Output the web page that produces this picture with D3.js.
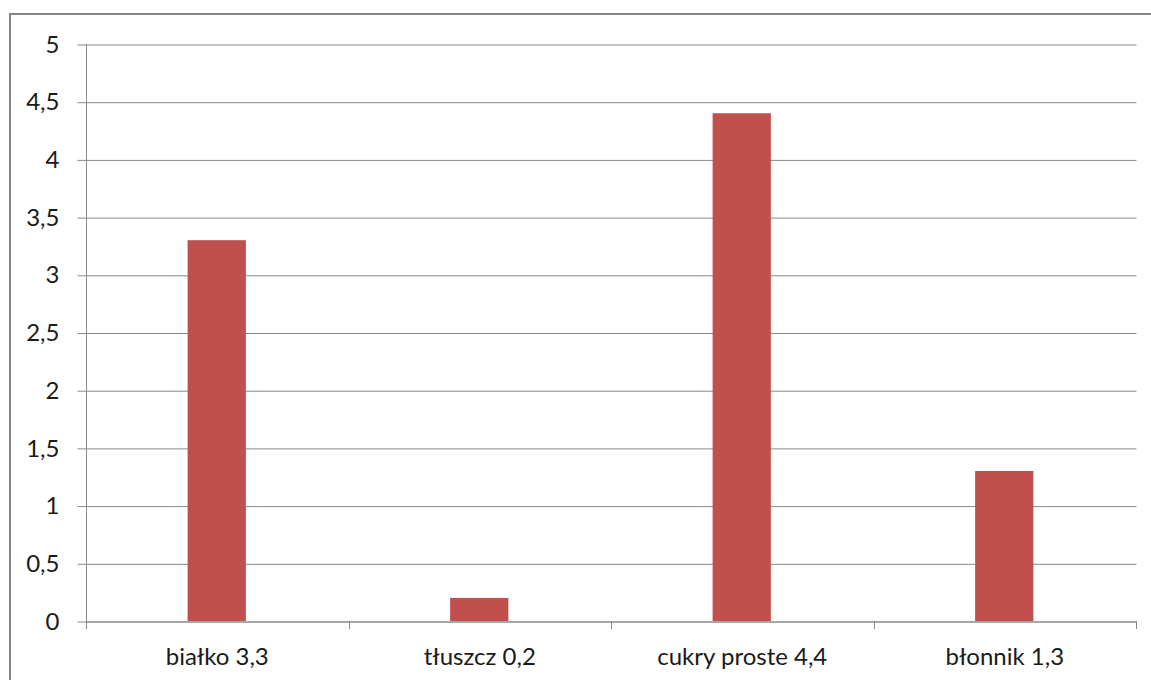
<!DOCTYPE html>
<html>
<head>
<meta charset="utf-8">
<script src="https://cdn.jsdelivr.net/npm/d3@7"></script>
<style>
  html, body { margin: 0; padding: 0; background: #fff; }
  svg { display: block; }
  text { font-family: Lato, "Liberation Sans", sans-serif; fill: #1a1a1a; }
</style>
</head>
<body>
<svg id="chart" width="1151" height="680"></svg>
<script>
// Nutrient content per category
const categories = ["białko 3,3", "tłuszcz 0,2", "cukry proste 4,4", "błonnik 1,3"];
const values = [3.3, 0.2, 4.4, 1.3];
const yTicks = [0, 0.5, 1, 1.5, 2, 2.5, 3, 3.5, 4, 4.5, 5];

const W = 1151, H = 680;
const margin = { left: 86, right: 15, top: 44, bottom: 59 };
const svg = d3.select("#chart");

// Outer chart frame (runs past the right and bottom edges)
svg.append("rect")
  .attr("x", 10).attr("y", 14)
  .attr("width", W + 20).attr("height", H + 20)
  .attr("fill", "none").attr("stroke", "#868686").attr("stroke-width", 2);

const x = d3.scaleBand()
  .domain(categories)
  .range([margin.left, W - margin.right])
  .padding(0);

const y = d3.scaleLinear()
  .domain([0, 5])
  .range([H - margin.bottom, margin.top]);

const fmt = d => String(d).replace(".", ",");

// Horizontal gridlines with tick labels
const yAxis = d3.axisLeft(y)
  .tickValues(yTicks)
  .tickFormat(fmt)
  .tickSize(-(W - margin.right - margin.left) - 9)
  .tickPadding(18);

const gy = svg.append("g")
  .attr("transform", `translate(${margin.left - 9 + 0.5},0)`)
  .call(yAxis);
gy.select(".domain").remove();
gy.selectAll(".tick line")
  .attr("stroke", "#898989")
  .attr("transform", "translate(0,0.5)");
gy.selectAll(".tick text")
  .attr("x", -(margin.left - 9 - 59))
  .attr("transform", "translate(0,0.5)")
  .style("font-size", "24px");

// Vertical value axis line
svg.append("line")
  .attr("x1", margin.left + 0.5).attr("x2", margin.left + 0.5)
  .attr("y1", y(5)).attr("y2", y(0) + 8)
  .attr("stroke", "#898989");

// Bars
const barW = x.bandwidth() * 0.222;
svg.append("g").selectAll("rect")
  .data(values)
  .join("rect")
  .attr("x", (d, i) => x(categories[i]) + x.bandwidth() / 2 - barW / 2 - 0.5)
  .attr("width", barW)
  .attr("y", d => y(d))
  .attr("height", d => y(0) - y(d))
  .attr("fill", "#C0504D");

// Category axis
const xAxis = d3.axisBottom(x).tickSize(0).tickPadding(26);
const gx = svg.append("g")
  .attr("transform", `translate(0,${y(0) + 0.5})`)
  .call(xAxis);
gx.select(".domain").attr("stroke", "#898989");
gx.selectAll(".tick text").style("font-size", "24px");

// Category separator ticks
const seps = categories.map(c => x(c)).concat([W - margin.right]);
svg.append("g").selectAll("line")
  .data(seps)
  .join("line")
  .attr("x1", d => Math.round(d) + 0.5).attr("x2", d => Math.round(d) + 0.5)
  .attr("y1", y(0)).attr("y2", y(0) + 8)
  .attr("stroke", "#898989");
</script>
</body>
</html>
